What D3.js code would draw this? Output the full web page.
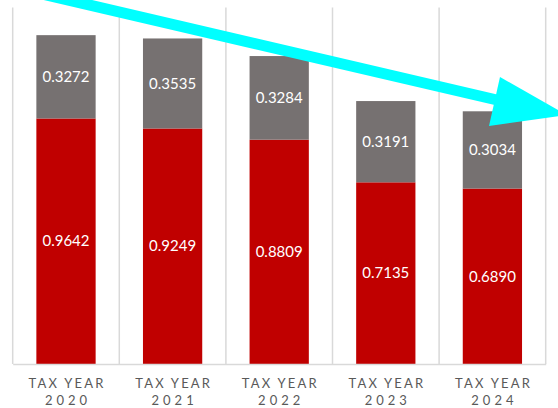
<!DOCTYPE html>
<html>
<head>
<meta charset="utf-8">
<script src="https://cdn.jsdelivr.net/npm/d3@7"></script>
<style>
  html, body { margin: 0; padding: 0; background: #ffffff; }
  svg { display: block; }
</style>
</head>
<body>
<svg id="chart" width="558" height="408"></svg>
<script>
// Stacked rate components per tax year
const years = ["2020", "2021", "2022", "2023", "2024"];
const baseRate = [0.9642, 0.9249, 0.8809, 0.7135, 0.6890];
const addOnRate = [0.3272, 0.3535, 0.3284, 0.3191, 0.3034];
const seriesNames = ["base", "addOn"];
const seriesColors = ["#C00000", "#767171"];

const W = 558, H = 408;
const margin = { left: 12.7, right: 12.3, top: 7.5, bottom: 44 };

const svg = d3.select("#chart");

const rows = years.map((y, i) => ({ year: y, base: baseRate[i], addOn: addOnRate[i] }));
const stacked = d3.stack().keys(seriesNames)(rows);

const x = d3.scaleBand()
  .domain(years)
  .range([margin.left, W - margin.right])
  .paddingInner(0.444)
  .paddingOuter(0.222);

const y = d3.scaleLinear()
  .domain([0, 1.4])
  .range([H - margin.bottom, margin.top]);

// Vertical category separators
const step = x.step();
const edges = d3.range(years.length + 1).map(i => margin.left + i * step);
svg.append("g")
  .selectAll("line")
  .data(edges)
  .join("line")
  .attr("x1", d => d).attr("x2", d => d)
  .attr("y1", y(1.4)).attr("y2", y(0))
  .attr("stroke", "#d9d9d9")
  .attr("stroke-width", 1.5);

// Bars
const color = d3.scaleOrdinal().domain(seriesNames).range(seriesColors);
const layers = svg.append("g")
  .selectAll("g")
  .data(stacked)
  .join("g")
  .attr("fill", d => color(d.key));

layers.selectAll("rect")
  .data(d => d)
  .join("rect")
  .attr("x", d => x(d.data.year))
  .attr("width", x.bandwidth())
  .attr("y", d => y(d[1]))
  .attr("height", d => y(d[0]) - y(d[1]));

// Segment value labels
layers.selectAll("text")
  .data(d => d.map(v => ({ v, key: d.key })))
  .join("text")
  .attr("x", d => x(d.v.data.year) + x.bandwidth() / 2)
  .attr("y", d => (y(d.v[0]) + y(d.v[1])) / 2)
  .attr("dy", "0.35em")
  .attr("text-anchor", "middle")
  .attr("fill", "#ffffff")
  .attr("font-family", "Lato, 'Open Sans', sans-serif")
  .attr("font-size", 15)
  .text(d => d.v.data[d.key].toFixed(4));

// Baseline axis
const axis = svg.append("g")
  .attr("transform", `translate(0,${y(0)})`)
  .call(d3.axisBottom(x).tickSize(0).tickFormat(""));
axis.select(".domain").attr("stroke", "#d9d9d9").attr("stroke-width", 1.5);

// Two-line category labels
const labels = axis.selectAll(".tick text")
  .text(null)
  .attr("y", 0)
  .attr("dy", null)
  .attr("fill", "#595959")
  .attr("font-family", "Lato, 'Open Sans', sans-serif")
  .attr("font-size", 13)
  .attr("text-anchor", "middle");
labels.append("tspan")
  .attr("x", 1.1).attr("y", 23.7)
  .attr("letter-spacing", "2.2px")
  .text("TAX YEAR");
labels.append("tspan")
  .attr("x", 2).attr("y", 41)
  .attr("letter-spacing", "4px")
  .text(d => d);

// Trend arrow drawn over the bars
const arrowColor = "#00FFFF";
svg.append("line")
  .attr("x1", 40).attr("y1", -6.5)
  .attr("x2", 497).attr("y2", 100)
  .attr("stroke", arrowColor)
  .attr("stroke-width", 11);
svg.append("path")
  .attr("d", "M500,77 L567,115 L489,126 Z")
  .attr("fill", arrowColor);
</script>
</body>
</html>
